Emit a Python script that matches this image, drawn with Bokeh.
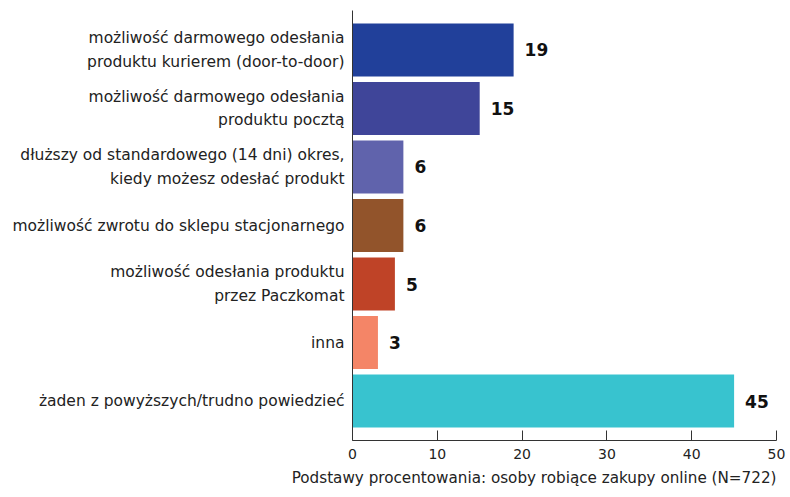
from bokeh.plotting import figure
from bokeh.models import ColumnDataSource, Range1d, FixedTicker, Title
from bokeh.core.properties import value
from bokeh.embed import file_html
from bokeh.resources import INLINE

categories = [
    "możliwość darmowego odesłania\nproduktu kurierem (door-to-door)",
    "możliwość darmowego odesłania\nproduktu pocztą",
    "dłuższy od standardowego (14 dni) okres,\nkiedy możesz odesłać produkt",
    "możliwość zwrotu do sklepu stacjonarnego",
    "możliwość odesłania produktu\nprzez Paczkomat",
    "inna",
    "żaden z powyższych/trudno powiedzieć",
]
values = [19, 15, 6, 6, 5, 3, 45]
colors = ["#21409A", "#3F4599", "#6063AC", "#92542B", "#BF4327", "#F48567", "#38C3CF"]
x_ticks = [0, 10, 20, 30, 40, 50]
footnote = "Podstawy procentowania: osoby robiące zakupy online (N=722)"

positions = list(range(len(categories)))
source = ColumnDataSource(dict(
    y=positions,
    v=values,
    color=colors,
    label=[str(v) for v in values],
))

p = figure(width=790, height=497, output_backend="svg", toolbar_location=None,
           x_range=Range1d(0, 50), y_range=Range1d(6.675, -0.675),
           min_border_left=352, min_border_right=14, min_border_top=10,
           min_border_bottom=57)

p.hbar(y="y", left=0, right="v", height=0.905, fill_color="color",
       line_color=None, source=source)
p.text(x="v", y="y", text="label", source=source, x_offset=11,
       text_align="left", text_baseline="middle",
       text_font=value("DejaVu Sans"), text_font_style="bold",
       text_font_size="17px", text_color="#111111")

p.xgrid.visible = False
p.ygrid.visible = False
p.outline_line_color = None

p.xaxis.ticker = FixedTicker(ticks=x_ticks)
p.xaxis.major_tick_in = 10
p.xaxis.major_tick_out = 0
p.xaxis.minor_tick_line_color = None
p.xaxis.axis_line_color = "#333333"
p.xaxis.major_tick_line_color = "#333333"
p.xaxis.major_label_text_font = "DejaVu Sans"
p.xaxis.major_label_text_font_size = "14px"
p.xaxis.major_label_text_color = "#222222"
p.xaxis.major_label_standoff = 8

p.yaxis.ticker = FixedTicker(ticks=positions)
p.yaxis.major_label_overrides = {i: c for i, c in zip(positions, categories)}
p.yaxis.major_tick_in = 0
p.yaxis.major_tick_out = 0
p.yaxis.minor_tick_line_color = None
p.yaxis.axis_line_color = "#333333"
p.yaxis.major_label_text_font = "DejaVu Sans"
p.yaxis.major_label_text_font_size = "15.5px"
p.yaxis.major_label_text_color = "#222222"
p.yaxis.major_label_text_line_height = 1.3
p.yaxis.major_label_standoff = 8

t = Title(text=footnote, align="right", text_font="DejaVu Sans",
          text_font_size="15.2px", text_font_style="normal",
          text_color="#222222", standoff=10)
p.add_layout(t, "below")

open("out.html", "w").write(file_html(p, INLINE))
